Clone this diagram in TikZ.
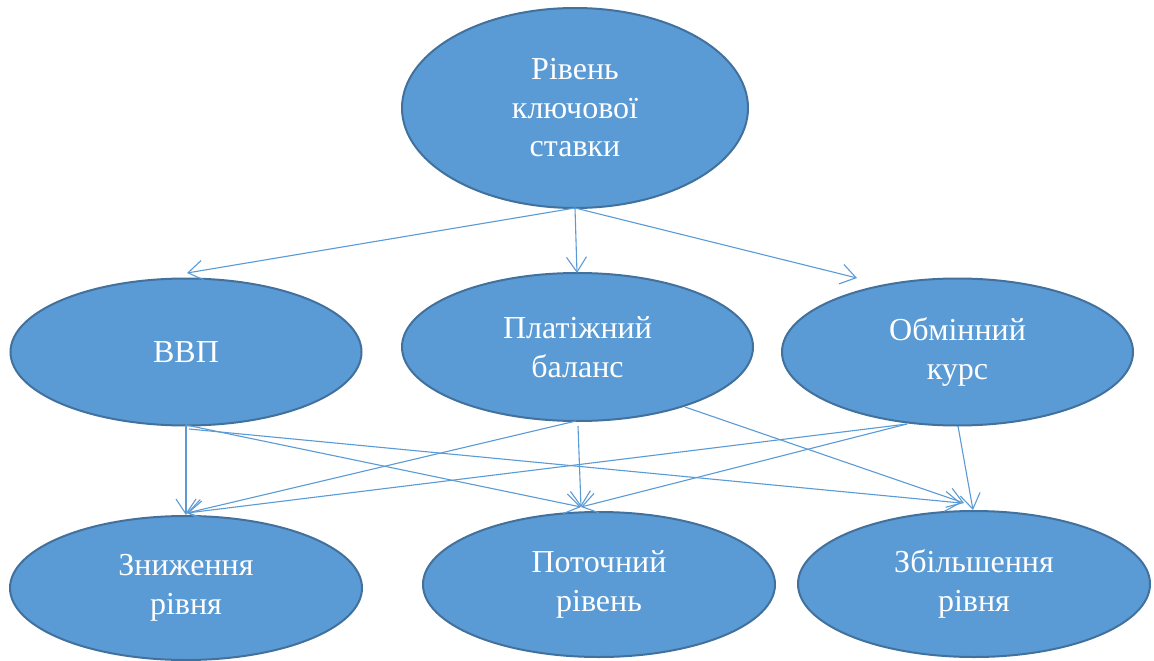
\documentclass[tikz,border=0pt]{standalone}
\usepackage{fontspec}
\setmainfont{Liberation Serif}
\usetikzlibrary{shapes.geometric,arrows.meta}
\definecolor{efill}{HTML}{5B9BD5}
\definecolor{eline}{HTML}{41719C}
\definecolor{aline}{HTML}{5B9BD5}
\begin{document}
\begin{tikzpicture}[x=1pt,y=-1pt,
  oval/.style={ellipse,fill=efill,draw=eline,line width=2pt,inner sep=0pt,
    text=white,align=center,font=\fontsize{32}{38.5}\selectfont},
  link/.style={draw=aline,line width=1.1pt,-{Straight Barb[length=15pt,width=20pt,line width=1.1pt]}}]
\useasboundingbox[fill=white] (0,0) rectangle (1154,661);
% nodes
\node[oval,minimum width=346pt,minimum height=200pt] (top) at (575,108) {Рівень\\ключової\\ставки};
\node[oval,minimum width=351pt,minimum height=147pt] (vvp) at (186,352) {ВВП};
\node[oval,minimum width=351pt,minimum height=148pt] (plat) at (577.5,347) {Платіжний\\баланс};
\node[oval,minimum width=351pt,minimum height=147pt] (obm) at (957.5,352) {Обмінний\\курс};
\node[oval,minimum width=352pt,minimum height=144pt] (zn) at (186,588) {Зниження\\рівня};
\node[oval,minimum width=352pt,minimum height=145pt] (pot) at (599,584.5) {Поточний\\рівень};
\node[oval,minimum width=352pt,minimum height=146pt] (zb) at (974,584) {Збільшення\\рівня};
% connector end points
\coordinate (t-s) at (575,208);
\coordinate (vvp-in) at (187,273);
\coordinate (plat-in) at (577,273);
\coordinate (obm-in) at (857,278);
\coordinate (vvp-s1) at (186,425);
\coordinate (vvp-s2) at (189,429);
\coordinate (plat-s1) at (576,421);
\coordinate (plat-s2) at (578,426);
\coordinate (plat-s3) at (685,407);
\coordinate (obm-s1) at (907,424);
\coordinate (obm-s2) at (958,426);
\coordinate (zn-in) at (187,513);
\coordinate (zn-in2) at (186,515);
\coordinate (pot-in) at (581,507);
\coordinate (zb-in1) at (961,503);
\coordinate (zb-in2) at (964,503);
\coordinate (zb-in3) at (973,510);
% connectors
\draw[link] (t-s) -- (vvp-in);
\draw[link] (t-s) -- (plat-in);
\draw[link] (t-s) -- (obm-in);
\draw[link] (vvp-s1) -- (zn-in2);
\draw[link] (vvp-s1) -- (pot-in);
\draw[link] (vvp-s2) -- (zb-in1);
\draw[link] (plat-s1) -- (zn-in);
\draw[link] (plat-s2) -- (pot-in);
\draw[link] (plat-s3) -- (zb-in2);
\draw[link] (obm-s1) -- (zn-in);
\draw[link] (obm-s1) -- (pot-in);
\draw[link] (obm-s2) -- (zb-in3);
\end{tikzpicture}
\end{document}
